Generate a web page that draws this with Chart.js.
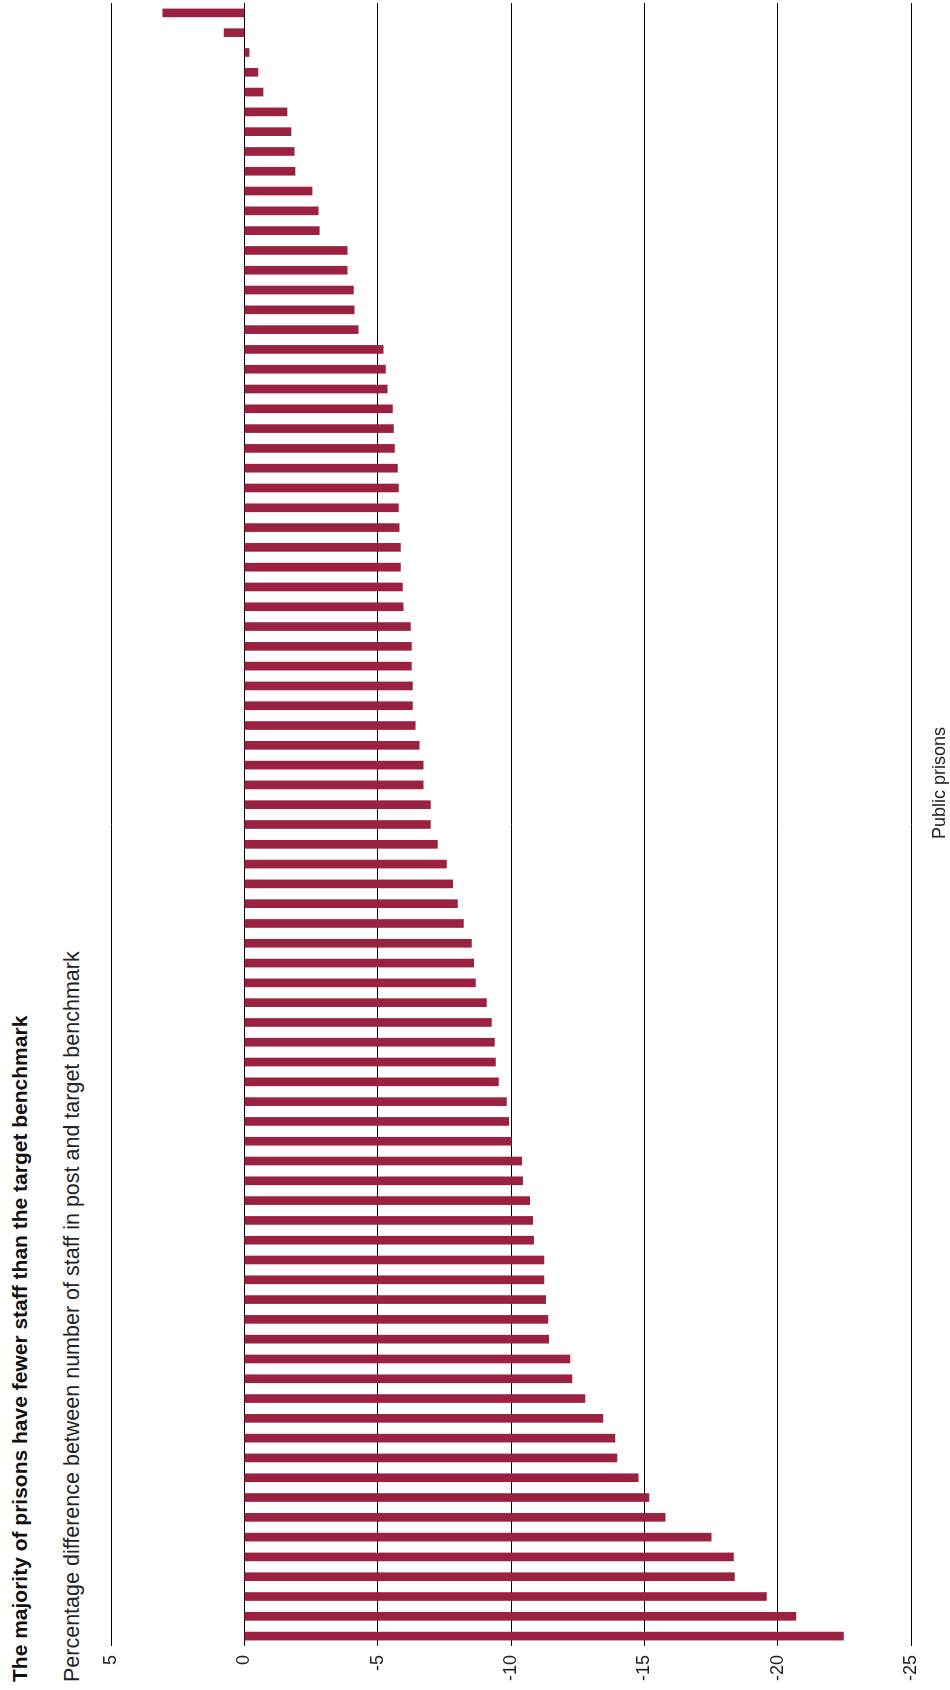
<!DOCTYPE html>
<html>
<head>
<meta charset="utf-8">
<script src="https://cdn.jsdelivr.net/npm/chart.js@4"></script>
<style>
    html, body { margin: 0; padding: 0; background: #fff; }
    body { width: 950px; height: 1690px; overflow: hidden; position: relative; }
    /* the chart is laid out landscape, then turned a quarter turn anticlockwise */
    #stage {
        position: absolute; left: 0; top: 0;
        width: 1690px; height: 950px;
        transform-origin: top left;
        transform: translate(0, 1690px) rotate(-90deg);
        font-family: "Liberation Sans", Arial, Helvetica, sans-serif;
    }
    #chart { position: absolute; left: 0; top: 0; }
    .title { position: absolute; left: 8px; top: 9px; font-size: 21px; line-height: 21px; font-weight: bold; color: #111; white-space: nowrap; }
    .subtitle { position: absolute; left: 8px; top: 62px; font-size: 21.5px; line-height: 21.5px; color: #222; white-space: nowrap; }
    .xtitle { position: absolute; left: 707px; width: 400px; top: 930px; text-align: center; font-size: 18px; line-height: 18px; color: #222; }
</style>
</head>
<body>
<div id="stage">
    <div class="title">The majority of prisons have fewer staff than the target benchmark</div>
    <div class="subtitle">Percentage difference between number of staff in post and target benchmark</div>
    <canvas id="chart" width="1690" height="950"></canvas>
    <div class="xtitle">Public prisons</div>
</div>
<script>
// ========== DATA ==========
// % difference between staff in post and target benchmark, one value per public prison (sorted)
const diffPct = [
    -22.47, -20.68, -19.58, -18.38, -18.34, -17.51, -15.78, -15.17, -14.77, -13.97,
    -13.90, -13.45, -12.77, -12.28, -12.21, -11.41, -11.38, -11.30, -11.23, -11.23,
    -10.85, -10.81, -10.70, -10.44, -10.40, -10.02, -9.91, -9.83, -9.53, -9.42,
    -9.38, -9.27, -9.08, -8.67, -8.60, -8.52, -8.22, -7.99, -7.81, -7.58,
    -7.24, -6.98, -6.98, -6.71, -6.71, -6.56, -6.41, -6.30, -6.30, -6.27,
    -6.27, -6.23, -5.96, -5.93, -5.85, -5.85, -5.81, -5.78, -5.78, -5.74,
    -5.63, -5.59, -5.55, -5.36, -5.29, -5.21, -4.27, -4.12, -4.09, -3.86,
    -3.86, -2.81, -2.77, -2.54, -1.90, -1.87, -1.75, -1.60, -0.70, -0.51,
    -0.18, 0.76, 3.06
];
const prisons = diffPct.map((_, i) => 'Prison ' + (i + 1));
const valueTicks = [5, 0, -5, -10, -15, -20, -25];

const BAR_COLOR = '#9b2140';

// ========== CHART ==========
new Chart(document.getElementById('chart').getContext('2d'), {
    type: 'bar',
    data: {
        labels: prisons,
        datasets: [{
            data: diffPct,
            backgroundColor: BAR_COLOR,
            borderWidth: 0,
            barThickness: 8
        }]
    },
    options: {
        responsive: false,
        animation: false,
        layout: { padding: { left: 0, right: 3, top: 111, bottom: 39 } },
        plugins: { legend: { display: false }, tooltip: { enabled: false } },
        scales: {
            x: {
                display: false,
                grid: { display: false }
            },
            y: {
                min: -25,
                max: 5,
                afterBuildTicks: (scale) => { scale.ticks = valueTicks.map(v => ({ value: v })); },
                afterFit: (scale) => { scale.width = 44; },
                border: { display: false },
                grid: { color: '#000', lineWidth: 1, drawTicks: false },
                ticks: {
                    padding: 9,
                    color: '#222',
                    font: { family: '"Liberation Sans", Arial, sans-serif', size: 18 }
                }
            }
        }
    }
});
</script>
</body>
</html>
